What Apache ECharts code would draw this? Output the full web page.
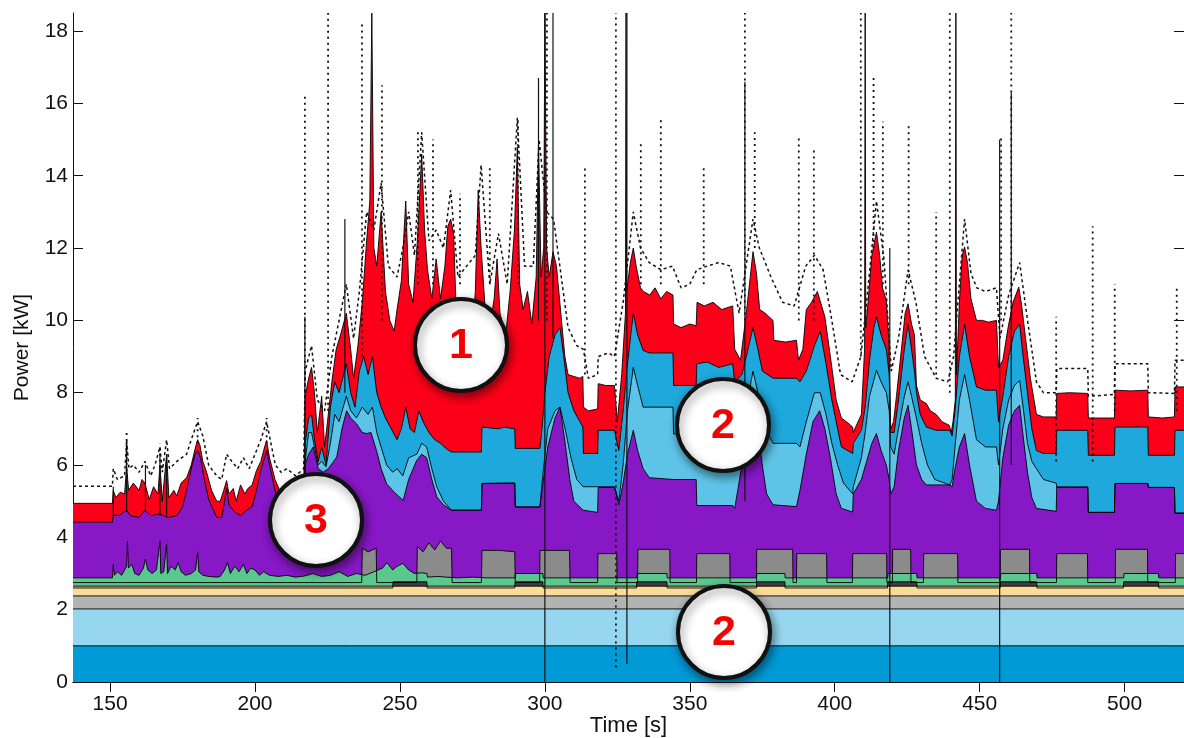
<!DOCTYPE html>
<html>
<head>
<meta charset="utf-8">
<script src="https://cdn.jsdelivr.net/npm/echarts@6.0.0/dist/echarts.min.js"></script>
<style>
    html, body { margin: 0; padding: 0; background: #fff; }
    #power_chart { width: 1184px; height: 738px; }
</style>
</head>
<body>
<div id="power_chart"></div>
<script>
'use strict';

// tick labels
var xTicks = [150, 200, 250, 300, 350, 400, 450, 500];
var yTicks = [0, 2, 4, 6, 8, 10, 12, 14, 16, 18];

// upper edge of each stacked layer, [time s, kW]
var redTop = [[137.2, 4.94], [150.8, 4.94], [151.1, 5.3], [152, 5.1], [153.5, 5.25], [155, 5.2], [155.7, 5.95], [156.4, 5.3], [158, 5.5], [160, 5.3], [161, 5.6], [162, 5.5], [163.5, 5.05], [165, 5.4], [166.5, 5.2], [167.2, 6.0], [168, 5.0], [169.5, 6.3], [170.3, 5.1], [172, 5.3], [173, 5.15], [174.5, 5.5], [176.4, 5.65], [178, 6.0], [179.5, 6.5], [180.2, 6.7], [181, 6.55], [182, 6.1], [183.3, 5.8], [185, 5.3], [186.8, 5.0], [188, 5.0], [189.2, 5.3], [190.2, 5.57], [191, 5.2], [192.5, 5.35], [193.5, 5.0], [195, 5.45], [196.5, 5.2], [197.5, 5.35], [199, 5.45], [200.5, 5.85], [202, 6.1], [203.3, 6.5], [204, 6.68], [205, 6.2], [206.9, 5.6], [208.5, 5.3], [210, 5.2], [212, 5.3], [214, 5.2], [216.8, 5.3],
    [217.3, 7.9], [218.5, 8.4], [219.5, 8.7], [220.5, 8.0], [221.5, 6.9], [223, 7.9], [224, 6.5], [225, 7.2], [226.5, 8.3], [228, 9.2], [229.5, 9.6], [231.5, 10.2], [233, 9.2], [234, 8.4], [235.5, 9.3], [237, 10.5], [238.5, 12.2], [239.6, 13.3], [240.3, 18.5], [241, 12.0], [242, 11.5], [243.5, 13.0], [245, 10.8], [246.5, 10.0], [248, 9.7], [249, 10.3], [250.5, 11.1], [252, 13.3], [253, 11.0], [254.5, 10.5], [256, 12.2], [257.5, 14.6], [258.5, 12.5], [259.5, 11.4], [261, 10.6], [262.5, 11.7], [264, 10.6], [265.5, 11.5], [266.5, 12.6], [267.5, 12.8], [268.5, 12.4], [269.3, 10.5], [270.5, 9.8], [272, 10.2], [273.5, 10.0], [275, 9.6], [276, 10.8], [277, 13.6], [278, 12.0], [279.5, 10.2], [281, 9.8], [282.5, 10.6], [283.5, 11.7], [284.5, 10.2], [286.5, 9.6], [288, 10.8], [289.5, 12.5], [290.5, 14.8], [291.3, 11.0], [292.5, 10.3], [294, 10.8], [295.5, 9.9], [297, 11.2], [297.8, 14.9], [298.7, 11.2], [299.6, 12.0], [300, 18.5], [300.6, 12.0], [301.5, 11.2], [302.8, 11.9], [304, 11.5], [305.5, 10.2], [306.9, 9.0], [308, 8.5], [310, 8.45], [312, 8.4], [313.1, 8.45], [313.3, 7.6], [315, 7.5], [318.2, 7.55], [318.4, 8.25], [321, 8.2], [324, 8.2], [325, 7.2], [326.5, 8.5], [327.8, 10.2], [328, 18.5], [328.2, 10.8], [329.5, 11.6], [330.5, 12.0], [331.5, 11.5], [333, 10.9], [334, 10.8], [336.2, 10.7], [338, 10.9], [340, 10.6], [342, 10.8], [344.2, 10.7], [344.4, 9.9], [347, 9.8], [350, 9.9], [352.2, 9.85], [352.5, 10.5], [355, 10.4], [358, 10.5], [361, 10.3], [364.8, 10.4], [365.5, 9.2], [367.5, 8.9], [369.5, 10.2], [371.8, 11.9], [373, 11.3], [374.1, 10.3], [376, 10.2], [378.7, 10.0], [379, 9.45], [383, 9.4], [386.8, 9.45], [387.5, 8.9], [389, 9.2], [390.2, 10.3], [392, 10.5], [394, 10.8], [396.6, 10.1], [398.5, 9.0], [400.5, 7.8], [402.3, 7.3], [404, 7.2], [406.2, 7.05], [406.4, 6.9], [407.5, 7.1], [409.2, 7.4], [410.3, 9.2], [410.5, 18.5], [410.7, 9.8], [411.5, 10.5], [412.8, 11.8], [414.4, 12.44], [415.5, 11.8], [416.5, 10.9], [417.8, 10.55], [418.6, 9.5], [419.3, 7.0], [420.3, 7.2], [421.3, 7.9], [423, 9.2], [424.3, 10.2], [425.3, 10.46], [426.5, 9.9], [427.5, 9.6], [428.2, 8.2], [429.5, 7.8], [431.6, 7.7], [433, 7.5], [435, 7.4], [437, 7.2], [439.5, 7.1], [440.2, 6.9], [440.8, 7.2], [441.6, 7.8], [441.8, 18.5], [442, 8.5], [443, 10.5], [444, 11.8], [444.8, 12.03], [445.8, 11.6], [447, 10.6], [448.9, 10.0], [451, 10.0], [453, 9.95], [455.8, 10.0], [456.5, 8.7], [458, 8.9], [459.8, 9.8], [461.5, 10.5], [463.5, 10.92], [464.5, 10.4], [466, 9.4], [467.5, 8.4], [469.6, 7.4], [472, 7.33], [476.4, 7.33], [476.6, 7.98], [481, 8.0], [487.3, 7.98], [487.5, 7.3], [492, 7.3], [496.5, 7.3], [496.7, 8.07], [502, 8.05], [508, 8.07], [508.2, 7.33], [513, 7.3], [517.2, 7.33], [517.4, 8.16], [520.5, 8.16]];

var blueTop = [[216.9, 4.9], [217.3, 6.6], [218.5, 7.3], [219.5, 7.4], [220.5, 6.7], [221.8, 6.1], [223, 6.5], [224.5, 6.0], [226, 7.6], [227.5, 8.3], [229, 8.0], [231.5, 8.8], [233, 8.0], [234.5, 7.6], [236, 8.6], [237.5, 9.0], [239, 8.5], [240.5, 9.0], [242, 8.0], [243.5, 7.6], [245, 7.3], [247, 7.0], [249, 6.7], [250.5, 7.0], [252, 7.6], [253.5, 7.0], [255, 6.9], [256.5, 7.5], [258, 7.2], [260, 6.9], [262, 6.7], [264, 6.6], [266, 6.45], [267.8, 6.36], [278.1, 6.36], [278.3, 7.05], [284, 7.0], [286, 7.05], [289.6, 7.0], [289.8, 6.46], [298.3, 6.46], [299, 7.0], [300, 8.0], [301.5, 9.0], [303.5, 9.6], [305.2, 9.8], [306.5, 9.0], [308, 8.0], [310, 7.5], [313.1, 7.05], [313.3, 6.32], [318.2, 6.32], [318.4, 6.96], [324, 6.96], [325.5, 6.4], [327, 7.5], [328.5, 8.8], [330.5, 10.2], [332, 9.6], [333.9, 9.17], [336, 9.1], [340, 9.1], [344.2, 9.1], [344.4, 8.2], [352.2, 8.2], [352.4, 8.8], [356, 8.85], [360, 8.7], [364.8, 8.8], [365.5, 8.3], [368, 8.5], [369.5, 9.0], [371.8, 9.8], [373.5, 9.2], [375, 8.6], [378.7, 8.4], [386.8, 8.4], [388, 8.3], [390.2, 8.6], [393, 9.3], [395, 9.7], [397, 8.8], [399, 7.8], [401, 7.0], [402.3, 6.5], [406.2, 6.32], [406.4, 6.6], [409.2, 6.96], [410.5, 7.6], [412, 8.9], [413.5, 9.8], [414.4, 10.1], [416, 9.6], [417.8, 9.2], [418.8, 8.5], [419.3, 6.9], [420.5, 6.9], [422, 7.8], [424, 9.2], [425.3, 9.9], [426.5, 9.2], [427.5, 8.6], [428.2, 8.0], [429.5, 7.4], [431.6, 7.05], [435, 6.96], [439.7, 6.96], [440.5, 6.8], [441.5, 7.5], [443, 9.0], [444.8, 9.9], [446.5, 9.0], [448.9, 8.16], [452, 8.07], [455.8, 8.07], [456.5, 7.2], [458, 7.9], [460, 9.0], [462, 9.7], [463.8, 9.9], [465, 9.0], [466.5, 8.0], [468, 7.0], [469.6, 6.4], [472, 6.32], [476.4, 6.32], [476.6, 6.96], [487.3, 6.96], [487.5, 6.27], [496.5, 6.27], [496.7, 7.05], [508, 7.05], [508.2, 6.27], [517.2, 6.27], [517.4, 6.96], [520.5, 6.96]];

var skyTop = [[216.9, 4.9], [217.3, 6.1], [218.5, 6.9], [219.5, 6.9], [220.5, 6.5], [221.8, 6.0], [223, 6.1], [224.5, 5.95], [226, 6.6], [227.5, 7.4], [229, 7.2], [231.5, 7.9], [233, 7.5], [235, 7.3], [237, 7.6], [239, 7.4], [240.5, 7.6], [242, 6.9], [243.5, 6.5], [245.4, 6.0], [247.5, 5.8], [249, 5.9], [251, 5.7], [253, 6.2], [255.8, 6.3], [257.5, 6.6], [259.2, 6.5], [261, 5.9], [262.7, 5.4], [265, 5.0], [267.8, 4.75], [278.1, 4.75], [278.3, 5.49], [289.6, 5.5], [289.8, 4.84], [298.3, 4.84], [299, 5.5], [301, 7.0], [303.5, 7.5], [305.2, 7.6], [307, 7.0], [309, 6.2], [311, 5.6], [313.2, 5.4], [318.2, 5.4], [318.4, 5.4], [324, 5.4], [325.5, 5.0], [327, 6.0], [328.5, 7.5], [330.5, 8.7], [332, 8.2], [333.9, 7.6], [338, 7.6], [344.2, 7.6], [344.4, 6.86], [352.2, 6.86], [352.4, 6.7], [358, 6.68], [364.8, 6.68], [365.5, 6.3], [368, 6.8], [369.5, 7.6], [371.8, 8.6], [373.5, 8.0], [375, 7.2], [378.7, 6.6], [386.8, 6.6], [388, 6.5], [390.2, 7.2], [393, 8.0], [395, 8.0], [397, 7.4], [399, 6.6], [401, 6.0], [403, 5.5], [406.2, 5.2], [406.4, 5.4], [409.2, 6.2], [410.5, 6.9], [412, 7.9], [414.4, 8.62], [416, 8.3], [417.8, 8.0], [418.8, 7.5], [419.3, 6.5], [420.5, 6.3], [422, 7.0], [424, 7.9], [425.3, 8.3], [426.5, 7.9], [428.2, 7.3], [430, 6.6], [432, 6.0], [434.5, 5.6], [439.7, 5.45], [440.5, 5.6], [441.5, 6.5], [443, 7.8], [444.8, 8.5], [446.5, 7.8], [448.9, 6.7], [452, 6.5], [455.8, 6.5], [456.5, 6.0], [458, 7.0], [460, 7.8], [462, 8.2], [463.8, 8.34], [465, 7.6], [466.5, 6.6], [468, 6.1], [469.6, 5.9], [472, 5.6], [476.4, 5.5], [476.6, 5.39], [487.3, 5.39], [487.5, 4.69], [496.5, 4.69], [496.7, 5.49], [508, 5.49], [508.2, 5.38], [517.2, 5.38], [517.4, 4.67], [520.5, 4.67]];

var purpleTop = [[137.2, 4.42], [150.8, 4.42], [151.1, 4.62], [153, 4.6], [155.7, 4.75], [157, 4.6], [160, 4.55], [162, 4.75], [164, 4.6], [167, 4.65], [170, 4.55], [173, 4.6], [175, 4.85], [176.4, 5.3], [178, 5.9], [179.3, 6.3], [180.2, 6.4], [181.2, 6.2], [182.5, 5.6], [184, 5.05], [186.8, 4.55], [188.5, 4.55], [189.5, 5.0], [190.2, 5.35], [191, 4.9], [193, 4.7], [195, 4.6], [197.1, 4.75], [199, 4.85], [200.5, 5.3], [202, 5.85], [203.3, 6.2], [204, 6.4], [205, 6.0], [206.9, 5.3], [208.5, 5.0], [211, 4.85], [214, 4.85], [216.8, 4.9], [217.2, 5.99], [218.5, 6.3], [220.1, 6.5], [221.8, 5.9], [223.5, 5.8], [225.3, 5.9], [228.2, 6.22], [230, 7.0], [231.6, 7.5], [233, 7.3], [235, 7.14], [237, 6.9], [238.5, 6.87], [240, 6.9], [241.9, 6.4], [243.5, 5.9], [245.4, 5.48], [248, 5.25], [251.1, 5.02], [253, 5.6], [255.8, 6.13], [257.5, 6.3], [259.2, 6.2], [261, 5.6], [262.7, 5.12], [265, 4.9], [267.8, 4.75], [278.1, 4.75], [278.3, 5.49], [289.6, 5.5], [289.8, 4.84], [298.3, 4.84], [299, 5.3], [301, 6.5], [303.5, 7.3], [305.2, 7.6], [307, 6.6], [308.6, 5.6], [310, 5.0], [313.2, 4.75], [318.2, 4.69], [318.4, 5.38], [324, 5.38], [325.5, 4.9], [327, 5.5], [328.5, 6.3], [330.5, 6.96], [332, 6.4], [333.9, 5.9], [336, 5.65], [344.2, 5.6], [352.2, 5.6], [352.4, 4.88], [364.8, 4.88], [365.5, 4.8], [368, 6.0], [369.5, 6.9], [371.8, 7.65], [373.5, 7.0], [375, 6.0], [376.5, 5.2], [378.7, 4.9], [386.8, 4.85], [388, 5.3], [390.2, 6.3], [392.5, 7.2], [394.8, 7.5], [396.6, 7.0], [398.5, 6.2], [400.5, 5.2], [402.3, 4.8], [406.2, 4.7], [406.4, 5.2], [409.2, 5.6], [411, 6.1], [412.8, 6.6], [414.4, 6.87], [416, 6.4], [417.8, 6.0], [418.8, 5.6], [419.3, 5.2], [420.5, 5.4], [422, 6.4], [424, 7.3], [425.3, 7.65], [426.5, 7.0], [428.2, 6.0], [430, 5.6], [431.6, 5.45], [439.7, 5.45], [440.5, 5.4], [441.5, 5.9], [443, 6.5], [444.8, 6.87], [446.5, 6.0], [448.9, 5.0], [452, 4.8], [455.8, 4.75], [456.5, 5.0], [458, 6.2], [460, 7.1], [462, 7.5], [463.8, 7.65], [465, 6.8], [466.5, 5.8], [468, 5.1], [469.6, 4.8], [476.4, 4.72], [476.6, 5.39], [487.3, 5.39], [487.5, 4.69], [496.5, 4.69], [496.7, 5.49], [508, 5.49], [508.2, 5.38], [517.2, 5.38], [517.4, 4.67], [520.5, 4.67]];

var grayTop = [[137.2, 2.75], [236.8, 2.75], [237, 3.7], [239, 3.6], [241.8, 3.7], [242, 2.75], [255.8, 2.75], [256, 3.75], [258, 3.6], [260, 3.85], [262, 3.65], [264, 3.9], [266, 3.7], [267.8, 3.7], [268, 2.75], [278.1, 2.75], [278.3, 3.64], [284.3, 3.64], [284.5, 3.6], [289.6, 3.6], [289.8, 2.75], [298.2, 2.75], [298.3, 3.64], [308.5, 3.64], [308.7, 2.75], [318.2, 2.75], [318.3, 3.55], [324.8, 3.55], [324.9, 2.75], [332, 2.75], [332.1, 3.67], [343.1, 3.67], [343.2, 2.75], [352.3, 2.75], [352.4, 3.55], [363.8, 3.55], [363.9, 2.75], [373, 2.75], [373.1, 3.67], [385.5, 3.67], [385.6, 2.75], [386.8, 2.75], [386.9, 3.55], [397.2, 3.55], [397.3, 2.75], [406.1, 2.75], [406.2, 3.55], [417.9, 3.55], [418, 2.75], [419.9, 2.75], [420, 3.67], [426.2, 3.67], [426.3, 2.75], [430.6, 2.75], [430.7, 3.55], [442.4, 3.55], [442.5, 2.75], [457.1, 2.75], [457.2, 3.67], [467.2, 3.67], [467.3, 2.75], [476.5, 2.75], [476.6, 3.55], [487.2, 3.55], [487.3, 2.75], [496.8, 2.75], [496.9, 3.67], [507.9, 3.67], [508, 2.75], [517.5, 2.75], [517.6, 3.55], [520.5, 3.55]];

var greenTop = [[137.2, 2.88], [150.8, 2.88], [151.1, 3.25], [151.5, 2.95], [152.5, 3.05], [154, 2.95], [155.7, 3.2], [156, 3.9], [156.3, 3.15], [157.5, 3.25], [158.5, 3.0], [160, 2.95], [161.5, 3.15], [162.2, 3.4], [163, 3.1], [164.5, 3.0], [166, 3.1], [167.2, 3.9], [167.5, 3.0], [168.5, 3.05], [169.5, 3.8], [169.8, 3.0], [171, 3.2], [172.5, 3.1], [173.5, 3.3], [174.5, 3.05], [176, 2.95], [178, 3.0], [179.5, 3.1], [180.2, 3.6], [180.6, 3.05], [182, 2.95], [184, 2.92], [186.8, 2.9], [188, 2.92], [189.5, 3.1], [190.5, 3.3], [191.5, 3.0], [193, 3.2], [194.5, 3.05], [196, 3.25], [197.2, 3.0], [198.5, 3.15], [200, 3.1], [201.5, 2.95], [203, 3.05], [205, 2.95], [208, 2.92], [211, 2.95], [214, 2.9], [217, 2.93], [220, 3.0], [223, 2.92], [226, 2.95], [229, 3.05], [232, 2.92], [235, 3.0], [238, 2.95], [241, 3.05], [244, 3.15], [245.5, 3.3], [247.5, 3.1], [249, 3.2], [251, 3.28], [253, 3.1], [255, 3.0], [257.5, 3.02], [259.3, 3.0], [259.5, 2.9], [263, 2.92], [266, 2.9], [270, 2.88], [275, 2.9], [280, 2.88], [289.7, 2.88], [289.8, 3.0], [299.3, 3.0], [299.4, 2.88], [331.7, 2.88], [331.8, 3.0], [342.1, 3.0], [342.2, 2.88], [373, 2.88], [373.1, 3.0], [382.8, 3.0], [382.9, 2.88], [418.3, 2.88], [418.4, 3.0], [428.3, 3.0], [428.4, 2.88], [457.2, 2.88], [457.3, 3.0], [469.7, 3.0], [469.8, 2.88], [499.7, 2.88], [499.8, 3.0], [511.7, 3.0], [511.8, 2.88], [520.5, 2.88]];

var darkTop = [[137.2, 2.6], [247.5, 2.6], [247.6, 2.77], [259.3, 2.77], [259.4, 2.6], [289.6, 2.6], [289.7, 2.77], [299.3, 2.77], [299.4, 2.6], [331.6, 2.6], [331.7, 2.77], [342.1, 2.77], [342.2, 2.6], [373, 2.6], [373.1, 2.77], [382.8, 2.77], [382.9, 2.6], [418.2, 2.6], [418.3, 2.77], [428.3, 2.77], [428.4, 2.6], [457.1, 2.6], [457.2, 2.77], [469.7, 2.77], [469.8, 2.6], [499.6, 2.6], [499.7, 2.77], [511.7, 2.77], [511.8, 2.6], [520.5, 2.6]];

var peachTop = [[137.2, 2.65], [520.5, 2.65]];
var silverTop = [[137.2, 2.38], [520.5, 2.38]];
var paleTop = [[137.2, 2.02], [520.5, 2.02]];
var baseTop = [[137.2, 1.0], [520.5, 1.0]];

// measured total (dotted trace over the stack)
var measured = [[137.2, 5.41], [150.8, 5.41], [151.1, 5.9], [152.5, 5.6], [155, 5.7], [155.7, 6.7], [156.5, 5.9], [158, 6.0], [160, 5.8], [162, 6.1], [164, 5.7], [165.5, 6.0], [167.2, 6.5], [168, 5.8], [169.5, 6.7], [170.5, 5.9], [173, 6.1], [176.4, 6.3], [178, 6.7], [180.2, 7.2], [182, 6.8], [184, 6.0], [186.8, 5.7], [188.5, 5.6], [190.2, 6.3], [192, 6.1], [194, 5.9], [196, 6.2], [198, 5.9], [200, 6.3], [202, 6.7], [204, 7.2], [205.5, 6.6], [207, 6.0], [209, 5.8], [211, 5.9], [214, 5.7], [216.8, 5.9], [217.3, 8.6], [219.5, 9.3], [221.5, 7.8], [224, 7.5], [226.5, 9.0], [229, 10.0], [231.5, 11.0], [234, 9.5], [236, 10.8], [238.5, 13.0], [241, 12.5], [243.5, 13.8], [246, 11.5], [249, 11.2], [251, 12.0], [253, 13.0], [255, 11.8], [257.5, 15.2], [260, 12.2], [262.5, 12.5], [265, 12.0], [267.5, 13.6], [270, 11.2], [273, 11.5], [276, 11.8], [278, 14.3], [281, 11.0], [284, 12.4], [287, 11.0], [290.5, 15.6], [293, 11.5], [296, 11.5], [298, 15.0], [300.6, 13.0], [303, 12.8], [306, 11.0], [308, 9.8], [311, 9.3], [313.3, 9.2], [315, 8.4], [318.2, 8.5], [318.4, 9.0], [322, 9.1], [324, 9.0], [327, 10.5], [330.5, 13.0], [333, 12.0], [336, 11.6], [340, 11.4], [344, 11.5], [347, 10.9], [350, 11.0], [352.4, 11.4], [356, 11.5], [360, 11.6], [364, 11.5], [367, 10.2], [371.8, 12.8], [374, 12.0], [378, 11.2], [382, 10.5], [386, 10.4], [390, 11.5], [393, 11.8], [396, 11.4], [399, 10.0], [402, 8.5], [406, 8.3], [409, 9.0], [411, 10.5], [414.4, 13.3], [417, 11.7], [419.5, 8.6], [422, 9.5], [425.3, 11.4], [428, 10.5], [431, 9.0], [435, 8.4], [439, 8.3], [441, 9.0], [444.8, 12.8], [447, 11.3], [449, 10.9], [452, 10.8], [455.8, 10.9], [457, 9.5], [460, 10.7], [463.8, 11.6], [466, 10.3], [469.6, 8.3], [472, 8.0], [476.4, 8.0], [476.6, 8.67], [487.3, 8.67], [487.5, 7.9], [496.5, 7.95], [496.7, 8.8], [508, 8.8], [508.2, 8.0], [517.2, 7.98], [517.4, 8.9], [520.5, 8.9]];

// short spikes of the measured trace: time, from, to
var dotSpikeT = [155.7, 167.2, 180.2, 204, 217.2, 225.2, 236.9, 243.8, 256.2, 261.4, 270.7, 281.0, 290.7, 300.7, 313.8, 324.5, 333.1, 340.0, 354.8, 369.0, 372.4, 387.6, 392.8, 409.0, 413.4, 416.6, 425.5, 435.0, 439.7, 457.4, 460.9, 476.4, 489.0, 496.6, 518.0];
var dotSpikeLo = [5.5, 5.6, 6.6, 6.6, 8.0, 7.5, 9.0, 10.0, 11.0, 11.0, 11.0, 11.0, 11.0, 10.0, 8.5, 0.4, 11.0, 11.0, 11.0, 10.0, 12.0, 10.0, 10.0, 9.0, 12.0, 11.0, 11.0, 8.5, 8.0, 10.0, 10.0, 6.1, 6.1, 7.5, 7.5];
var dotSpikeHi = [6.9, 6.6, 7.3, 7.3, 16.2, 18.5, 18.2, 16.5, 15.2, 15.0, 13.5, 14.3, 15.6, 18.5, 14.2, 18.5, 14.9, 15.6, 14.3, 18.5, 15.2, 15.1, 14.8, 18.5, 16.8, 15.5, 15.4, 13.0, 18.5, 15.1, 18.5, 10.1, 12.6, 11.0, 10.9];

var lineSpikeT = [151.1, 155.7, 162.2, 167.2, 169.5, 217.2, 231.0, 297.8, 300.0, 302.8, 328.3, 369.0, 419.0, 456.9, 460.9];
var lineSpikeLo = [4.6, 4.7, 4.7, 4.6, 4.6, 5.5, 8.0, 10.0, 0, 9.5, 0.5, 5.0, 0, 0, 6.0];
var lineSpikeHi = [5.4, 6.6, 6.0, 6.3, 6.3, 10.1, 12.8, 16.7, 18.5, 18.5, 18.5, 16.6, 12.0, 15.0, 16.3];

var spikeData = function (ts, lo, hi) {
    var out = [];
    for (var i = 0; i < ts.length; i++) {
        out.push([ts[i], lo[i]], [ts[i], hi[i]], [ts[i], '-']);
    }
    return out;
};

var areaLayer = function (name, data, color) {
    return {
        name : name,
        type : 'line',
        data : data,
        symbol : 'none',
        smooth : false,
        silent : true,
        lineStyle : {color : '#000', width : 0.9},
        areaStyle : {color : color, opacity : 1},
        z : 2
    };
};

var fontName = '"Liberation Sans", Arial, Helvetica, sans-serif';

var badge = function (text, cx, cy) {
    return [
        {
            type : 'circle',
            z : 100,
            shape : {cx : cx, cy : cy, r : 46},
            style : {
                fill : '#fff', stroke : '#111', lineWidth : 4,
                shadowBlur : 10, shadowColor : 'rgba(0,0,0,0.45)',
                shadowOffsetX : 2, shadowOffsetY : 4
            }
        },
        {
            type : 'text',
            z : 101,
            x : cx,
            y : cy + 1,
            style : {
                text : text, fill : '#f50000',
                font : 'bold 43px ' + fontName,
                align : 'center', verticalAlign : 'middle',
                textAlign : 'center', textVerticalAlign : 'middle'
            }
        }
    ];
};

var option = {
    animation : false,
    backgroundColor : '#fff',
    grid : {left : 73, top : 13, right : 0, bottom : 56, containLabel : false, outerBoundsMode : 'none'},
    xAxis : [
        {
            type : 'value',
            position : 'bottom',
            min : 137.2,
            max : 520.5,
            name : 'Time [s]',
            nameLocation : 'middle',
            nameGap : 33,
            nameMoveOverlap : false,
            nameTextStyle : {fontSize : 22, color : '#111', fontFamily : fontName},
            axisLine : {lineStyle : {color : '#111', width : 1}},
            axisTick : {inside : true, length : 10, customValues : xTicks, lineStyle : {color : '#111'}},
            axisLabel : {customValues : xTicks, fontSize : 21, color : '#111', margin : 12, fontFamily : fontName},
            splitLine : {show : false}
        },
        {
            type : 'value',
            position : 'top',
            min : 137.2,
            max : 520.5,
            axisLine : {lineStyle : {color : '#111', width : 1}},
            axisTick : {inside : true, length : 10, customValues : xTicks, lineStyle : {color : '#111'}},
            axisLabel : {show : false},
            splitLine : {show : false}
        }
    ],
    yAxis : [
        {
            type : 'value',
            position : 'left',
            min : 0,
            max : 18.5,
            name : 'Power [kW]',
            nameLocation : 'middle',
            nameGap : 40,
            nameRotate : 90,
            nameMoveOverlap : false,
            nameTextStyle : {fontSize : 21, color : '#111', fontFamily : fontName},
            axisLine : {show : true, lineStyle : {color : '#111', width : 1}},
            axisTick : {show : true, inside : true, length : 10, customValues : yTicks, lineStyle : {color : '#111'}},
            axisLabel : {customValues : yTicks, fontSize : 21, color : '#111', margin : 5, fontFamily : fontName},
            splitLine : {show : false}
        },
        {
            type : 'value',
            position : 'right',
            min : 0,
            max : 18.5,
            axisLine : {show : false},
            axisTick : {show : true, inside : true, length : 10, customValues : yTicks, lineStyle : {color : '#111'}},
            axisLabel : {show : false},
            splitLine : {show : false}
        }
    ],
    series : [
        areaLayer('red', redTop, '#fc0019'),
        areaLayer('blue', blueTop, '#1ea8dc'),
        areaLayer('sky', skyTop, '#5ec4e7'),
        areaLayer('purple', purpleTop, '#8718c6'),
        areaLayer('gray', grayTop, '#8b8b8b'),
        areaLayer('green', greenTop, '#59c78e'),
        areaLayer('dark', darkTop, '#3f3f3f'),
        areaLayer('peach', peachTop, '#fbdb98'),
        areaLayer('silver', silverTop, '#b3b3b3'),
        areaLayer('pale', paleTop, '#97d6ef'),
        areaLayer('base', baseTop, '#009ad6'),
        {
            name : 'measured',
            type : 'line',
            data : measured,
            symbol : 'none',
            silent : true,
            lineStyle : {color : '#111', width : 1.5, type : [3, 3]},
            z : 5
        },
        {
            name : 'dot spikes',
            type : 'line',
            data : spikeData(dotSpikeT, dotSpikeLo, dotSpikeHi),
            symbol : 'none',
            silent : true,
            connectNulls : false,
            lineStyle : {color : '#111', width : 1.8, type : [2, 4]},
            z : 5
        },
        {
            name : 'line spikes',
            type : 'line',
            data : spikeData(lineSpikeT, lineSpikeLo, lineSpikeHi),
            symbol : 'none',
            silent : true,
            connectNulls : false,
            lineStyle : {color : '#111', width : 1.2},
            z : 6
        }
    ],
    graphic : {
        elements : [].concat(
            badge('1', 461, 345),
            badge('2', 723, 425),
            badge('3', 316, 520),
            badge('2', 724, 632)
        )
    }
};

var power_chart = echarts.init(document.getElementById('power_chart'), null, {renderer : 'canvas'});
power_chart.setOption(option);
</script>
</body>
</html>
